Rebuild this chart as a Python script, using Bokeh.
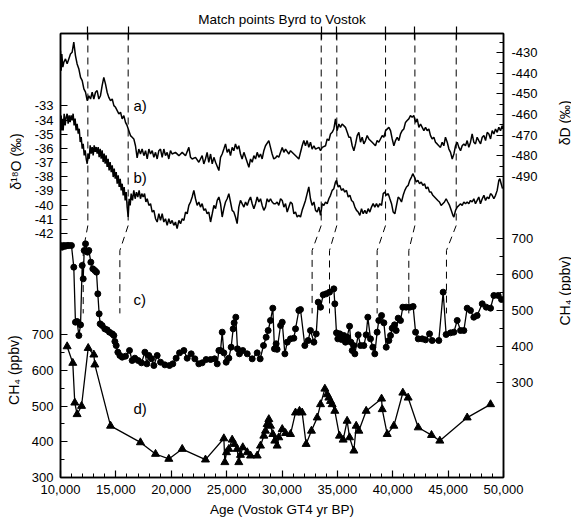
import math
from bokeh.plotting import figure
from bokeh.models import Range1d, LinearAxis, FixedTicker, NumeralTickFormatter, Label
from bokeh.layouts import row
from bokeh.core.properties import value
from bokeh.embed import file_html
from bokeh.resources import INLINE

FONT = "Liberation Sans"

# ---------------- data ----------------
# a) Vostok deltaD (permil)
A_AGE = [10000,10060,10120,10210,10300,10450,10600,10750,10900,11050,
         11200,11350,11500,11660,11810,11960,12110,12260,12410,12560,
         12710,12860,13010,13160,13310,13460,13610,13760,13910,14060,
         14210,14360,14520,14670,14820,14970,15120,15270,15420,15570,
         15720,15870,16020,16170,16320,16470,16620,16770,16920,17070,
         17220,17370,17530,17680,17830,17980,18130,18280,18430,18580,
         18730,18880,19030,19180,19330,19480,19630,19780,19930,20080,
         20380,20690,20990,21290,21590,21740,21890,22190,22490,22790,
         22940,23090,23240,23390,23550,23700,23850,24000,24300,24450,
         24600,24750,24900,25050,25200,25350,25500,25650,25800,25950,
         26100,26250,26400,26560,26710,26860,27010,27160,27310,27460,
         27610,27760,27910,28060,28210,28360,28510,28810,28960,29110,
         29260,29410,29560,29710,30020,30170,30320,30620,30770,31070,
         31370,31520,31820,31970,32120,32270,32420,32570,32720,32880,
         33030,33330,33480,33630,33930,34080,34230,34380,34530,34680,
         34830,34980,35130,35280,35430,35730,35890,36040,36190,36340,
         36490,36640,36790,36940,37090,37240,37390,37540,37690,37840,
         38140,38440,38590,38740,39050,39200,39350,39650,39800,39950,
         40100,40250,40400,40550,40700,40850,41000,41150,41300,41450,
         41600,41750,41900,42060,42210,42360,42510,42660,42810,42960,
         43110,43260,43410,43560,43710,43860,44010,44160,44310,44460,
         44610,44760,44920,45070,45220,45370,45520,45670,45820,45970,
         46120,46270,46420,46570,46720,46870,47020,47170,47320,47470,
         47620,47770,47930,48080,48230,48380,48530,48680,48830,48980,
         49130,49280,49430,49580,49730,49880,49940]
A_DD = [-429.1,-438.8,-430.7,-437.1,-434.7,-433.1,-435.5,-433.1,-430.7,-429.9,
        -425.0,-431.5,-435.5,-438.0,-442.0,-443.6,-447.6,-449.2,-453.3,-450.9,
        -452.5,-449.2,-452.5,-449.2,-448.4,-452.5,-450.9,-446.0,-442.0,-445.2,
        -449.2,-451.7,-453.3,-452.5,-455.7,-456.5,-458.1,-459.7,-458.9,-462.1,
        -460.5,-463.8,-465.4,-467.8,-470.2,-471.0,-471.8,-475.1,-481.0,-476.7,
        -479.1,-476.7,-479.9,-477.5,-481.5,-476.7,-479.1,-477.5,-480.7,-478.3,
        -481.5,-477.5,-476.7,-480.7,-476.7,-479.9,-478.3,-481.5,-477.5,-479.1,
        -478.3,-479.9,-478.3,-479.9,-475.9,-480.7,-481.5,-480.7,-483.1,-479.9,
        -483.9,-481.5,-478.3,-483.1,-479.1,-483.9,-480.7,-483.1,-487.1,-480.7,
        -479.1,-476.7,-474.2,-478.3,-476.7,-479.9,-475.9,-477.5,-474.2,-476.7,
        -475.1,-479.1,-481.5,-478.3,-480.7,-483.1,-485.5,-481.5,-483.1,-479.9,
        -481.5,-478.3,-480.7,-479.1,-481.5,-477.5,-475.1,-472.6,-475.9,-479.1,
        -481.5,-481.0,-479.9,-480.7,-475.9,-478.3,-476.7,-479.1,-477.5,-479.1,
        -480.7,-481.5,-475.1,-472.6,-475.1,-472.6,-475.9,-473.4,-476.7,-475.1,
        -476.7,-475.9,-477.5,-475.9,-475.1,-471.8,-472.6,-469.4,-468.6,-467.0,
        -462.1,-467.8,-464.6,-466.2,-464.6,-466.2,-468.6,-471.0,-471.0,-475.1,
        -477.5,-474.2,-470.2,-468.6,-473.4,-471.0,-474.2,-472.6,-470.2,-471.8,
        -473.4,-475.1,-472.6,-473.4,-470.2,-471.0,-467.8,-466.2,-467.8,-471.8,
        -475.1,-472.6,-471.0,-472.6,-469.4,-467.8,-467.0,-463.8,-462.9,-462.1,
        -460.5,-461.3,-460.5,-463.8,-462.1,-466.2,-464.6,-466.2,-467.8,-466.2,
        -467.8,-467.0,-470.2,-471.8,-471.0,-473.4,-474.2,-475.1,-475.9,-473.4,
        -475.1,-471.0,-473.4,-476.7,-478.3,-481.5,-479.1,-475.1,-473.4,-475.9,
        -477.5,-475.1,-474.2,-475.1,-472.6,-475.9,-473.4,-469.4,-473.4,-474.2,
        -471.0,-472.6,-474.2,-471.0,-470.2,-472.6,-468.6,-469.4,-471.8,-467.8,
        -469.4,-467.0,-468.6,-466.2,-467.8,-465.4,-467.0]

# b) Byrd delta18O (permil)
B_AGE = [10000,10060,10120,10180,10240,10330,10420,10510,10600,10690,
         10780,10870,10960,11050,11140,11230,11320,11410,11500,11600,
         11690,11780,11870,11960,12050,12140,12230,12320,12410,12500,
         12590,12680,12770,12860,12950,13040,13130,13220,13310,13400,
         13490,13580,13670,13760,13850,13940,14030,14120,14210,14300,
         14390,14480,14580,14670,14760,14850,14940,15030,15120,15210,
         15300,15390,15480,15570,15660,15750,15840,15930,16020,16110,
         16200,16290,16380,16500,16620,16740,16860,16980,17100,17220,
         17340,17460,17590,17710,17830,17980,18130,18280,18430,18580,
         18730,18880,19030,19180,19330,19480,19630,19780,19930,20080,
         20230,20380,20530,20690,20840,20990,21140,21290,21440,21590,
         21740,21890,22040,22190,22340,22490,22640,22790,22940,23090,
         23240,23390,23550,23700,23850,24000,24150,24300,24450,24600,
         24750,24900,25050,25200,25350,25500,25650,25800,25950,26100,
         26250,26400,26560,26710,26860,27010,27160,27310,27460,27610,
         27760,27910,28060,28210,28360,28510,28660,28810,28960,29110,
         29260,29410,29560,29710,29870,30020,30170,30320,30470,30620,
         30770,30920,31070,31220,31370,31520,31670,31820,31970,32120,
         32270,32420,32570,32720,32880,33030,33180,33330,33480,33630,
         33780,33930,34080,34230,34380,34530,34680,34830,34920,35070,
         35220,35370,35520,35670,35820,35980,36130,36280,36430,36580,
         36730,36880,37030,37180,37330,37480,37630,37780,37930,38080,
         38230,38380,38530,38680,38830,38990,39140,39290,39440,39590,
         39740,39890,40040,40190,40340,40490,40640,40790,40940,41090,
         41240,41390,41540,41690,41810,41960,42120,42270,42420,42570,
         42720,42870,43020,43170,43320,43470,43620,43770,43920,44070,
         44220,44370,44520,44670,44820,44970,45130,45280,45430,45520,
         45670,45820,45970,46120,46270,46420,46570,46720,46870,47020,
         47170,47320,47470,47620,47770,47920,48080,48230,48380,48530,
         48680,48830,48980,49130,49280,49430,49580,49670,49790,49910]
B_D18O = [-34.26,-33.67,-34.73,-33.90,-34.73,-33.55,-34.37,-33.79,-33.55,-34.26,
          -33.67,-34.14,-33.67,-34.02,-33.55,-34.37,-33.90,-34.73,-34.26,-34.96,
          -34.61,-35.55,-35.20,-36.02,-35.67,-36.49,-36.14,-36.73,-37.08,-36.37,
          -36.73,-35.78,-36.37,-35.90,-36.49,-35.78,-36.25,-35.90,-36.37,-35.90,
          -36.61,-36.02,-36.73,-36.14,-36.96,-36.37,-37.08,-36.49,-37.31,-36.73,
          -37.55,-36.96,-37.67,-37.20,-38.02,-37.43,-38.14,-37.67,-38.49,-37.90,
          -38.72,-38.14,-38.96,-38.49,-39.31,-38.72,-39.67,-39.08,-40.14,-40.84,
          -39.55,-40.02,-39.19,-39.67,-38.96,-39.55,-39.08,-39.43,-38.96,-39.55,
          -39.19,-39.43,-39.19,-39.78,-39.55,-40.02,-39.90,-40.49,-40.37,-40.96,
          -41.19,-40.61,-41.08,-40.61,-41.19,-40.96,-41.43,-40.96,-41.31,-41.08,
          -41.43,-41.19,-41.66,-41.08,-41.31,-40.96,-41.08,-40.49,-40.61,-40.02,
          -39.78,-39.43,-38.96,-39.55,-40.02,-39.78,-40.14,-39.90,-40.37,-40.25,
          -40.61,-40.49,-41.19,-40.61,-40.02,-40.25,-39.67,-39.43,-39.90,-40.84,
          -40.25,-39.78,-39.55,-39.19,-39.78,-40.37,-40.49,-40.84,-41.31,-40.14,
          -39.67,-39.90,-40.14,-39.78,-40.02,-39.67,-39.43,-39.90,-40.25,-39.90,
          -39.43,-39.78,-39.55,-40.02,-40.37,-40.14,-39.55,-39.78,-39.55,-39.78,
          -39.90,-39.90,-39.78,-40.02,-39.55,-39.67,-40.14,-39.90,-40.49,-40.14,
          -39.78,-39.90,-40.61,-40.49,-40.84,-40.72,-40.84,-40.37,-40.02,-39.67,
          -39.19,-38.72,-39.55,-40.02,-39.78,-40.37,-40.49,-40.14,-40.72,-39.90,
          -40.02,-39.78,-39.90,-39.55,-39.31,-38.96,-38.84,-38.37,-38.25,-38.72,
          -38.61,-38.96,-38.84,-39.08,-38.96,-39.43,-39.31,-39.67,-39.78,-40.14,
          -40.37,-40.49,-40.72,-40.25,-40.61,-40.37,-40.61,-40.25,-40.49,-40.14,
          -39.90,-40.14,-39.90,-40.14,-39.90,-40.02,-39.19,-39.08,-39.31,-39.19,
          -39.55,-39.90,-40.49,-40.61,-40.02,-39.43,-39.55,-39.78,-39.31,-38.96,
          -38.72,-38.61,-38.25,-38.02,-37.78,-38.02,-38.37,-38.25,-38.49,-38.37,
          -38.61,-38.49,-38.84,-38.72,-39.08,-39.08,-39.31,-39.43,-39.55,-39.67,
          -39.78,-40.02,-39.90,-39.78,-39.55,-39.78,-40.02,-40.37,-40.72,-40.84,
          -40.37,-40.14,-40.02,-39.90,-40.02,-39.78,-39.90,-39.78,-39.90,-39.67,
          -39.78,-39.55,-39.90,-39.67,-39.43,-39.90,-39.55,-39.31,-39.67,-39.43,
          -39.55,-39.19,-39.31,-39.55,-39.31,-38.96,-38.25,-38.14,-38.49,-38.84]

# c) Byrd CH4 (ppbv)
C_AGE = [10000,10150,10300,10450,10600,10750,10990,11200,11350,11500,
         11660,11810,11960,12050,12140,12260,12440,12560,12740,12920,
         13100,13250,13370,13490,13580,13760,14000,14210,14420,14670,
         14820,14910,15030,15180,15360,15570,15870,16230,16470,16710,
         17010,17310,17620,17800,17980,18220,18430,18730,19030,19420,
         19840,20140,20440,20750,21140,21440,21800,22130,22490,22790,
         23150,23550,23910,24150,24300,24450,24600,24750,24960,25200,
         25410,25590,25680,25830,25980,26160,26460,26860,27310,27760,
         28030,28330,28570,28750,28960,29170,29320,29470,29560,29870,
         30020,30260,30470,30770,31070,31220,31520,31670,32060,32360,
         32570,32880,33090,33270,33480,33720,33990,34290,34680,34770,
         34920,35040,35220,35370,35580,35730,35880,36100,36220,36340,
         36460,36580,36880,37090,37390,37600,37750,37990,38200,38380,
         38590,38740,38990,39200,39410,39650,39800,39950,40160,40310,
         40490,40700,40910,41210,41540,41840,42060,42300,42660,42960,
         43320,43560,44160,44550,44820,45220,45520,45820,46120,46420,
         46720,47020,47320,47620,48080,48440,48830,49130,49520,49820]
C_CH4 = [680.5,675.9,680.5,678.7,680.5,680.5,680.5,620.3,467.5,469.4,
         430.5,460.1,625.0,587.9,666.6,685.2,662.0,666.6,634.2,615.7,
         611.1,606.4,546.3,490.7,462.9,458.3,449.0,446.2,439.8,435.1,
         430.5,413.8,402.7,384.2,375.0,370.3,373.1,388.8,361.1,367.5,
         361.1,354.6,384.2,351.8,375.0,365.7,347.2,375.0,356.4,349.0,
         347.2,351.8,367.5,382.3,388.8,367.5,379.6,365.7,351.8,354.6,
         363.8,363.8,365.7,351.8,388.8,388.8,439.8,382.3,356.4,367.5,
         398.1,449.0,465.7,481.4,393.5,379.6,388.8,379.6,365.7,382.3,
         365.7,402.7,425.9,444.4,472.2,506.4,393.5,407.4,392.0,458.3,
         467.5,379.6,412.0,421.2,423.1,449.0,500.0,502.7,402.7,416.6,
         444.4,412.0,435.1,523.1,509.2,543.5,546.3,550.9,560.1,518.5,
         437.9,421.2,435.1,419.4,430.5,412.0,425.9,456.4,412.0,388.8,
         402.7,379.6,432.4,402.7,402.7,432.4,481.4,421.2,398.1,379.6,
         439.8,472.2,486.1,465.7,398.1,416.6,430.5,450.9,460.1,444.4,
         478.7,472.2,509.2,509.2,509.2,511.1,439.8,421.2,421.2,418.5,
         435.1,416.6,416.6,550.9,433.3,437.9,439.8,472.2,444.4,444.4,
         506.4,500.0,481.4,486.1,518.5,509.2,506.4,541.6,541.6,530.5]

# d) Vostok CH4 (ppbv)
D_AGE = [10600,11110,11290,11500,11900,12500,13010,13100,14520,17220,
         18580,19780,20990,23090,24750,24840,24990,25200,25500,25710,
         25950,26100,26250,26460,26860,27160,27760,28060,28360,28510,
         28660,28810,28960,29170,29350,29560,29710,30020,30320,30770,
         31220,31580,31820,32180,32660,33180,33480,33870,34080,34230,
         34380,34530,34770,35190,35520,35880,36100,36490,36700,36940,
         37600,38990,39050,39500,40100,40910,41390,42300,43500,44250,
         46720,48830]
D_CH4 = [666.6,620.3,509.2,476.8,499.9,662.0,643.5,615.7,444.4,398.1,
         365.7,351.8,379.6,349.9,409.2,342.5,370.3,379.6,405.5,393.5,
         379.6,342.5,362.9,384.2,370.3,361.0,361.0,388.8,416.6,430.5,
         449.0,462.9,444.4,421.2,402.7,388.8,412.0,435.1,424.0,421.2,
         481.4,486.1,481.4,393.5,430.5,467.5,504.6,548.1,532.4,523.1,
         513.8,504.6,486.1,416.6,405.5,458.3,412.0,374.9,444.4,430.5,
         486.1,520.3,490.7,421.2,444.4,537.0,523.1,439.8,418.5,402.7,
         467.5,504.6]

# match points (Vostok GT4 age of tie point / Byrd age of tie point)
VOSTOK_MATCH = [12470, 16110, 33540, 34950, 39350, 42000, 45730]
BYRD_MATCH = [12050, 15360, 32720, 34290, 38590, 41450, 44850]

# tick values
X_MAJOR = list(range(10000, 50001, 5000))
X_MINOR = list(range(10000, 50001, 1000))
D18O_TICKS = list(range(-42, -32))
DD_TICKS = list(range(-490, -429, 10))
DD_MINOR = list(range(-485, -424, 10))
CH4_TICKS = [300, 400, 500, 600, 700]
CH4_MINOR = [350, 450, 550, 650]

for a, b in [(A_AGE, A_DD), (B_AGE, B_D18O), (C_AGE, C_CH4), (D_AGE, D_CH4)]:
    assert len(a) == len(b), (len(a), len(b))

# ---------------- scales ----------------
X_RANGE = (10000, 50000)
Y_CH4L = (300.0, 1542.0)      # primary (left CH4, curve d)
Y_D18O = (-59.22, -27.89)     # left delta18O (curve b)
Y_DD = (-635.6, -420.8)       # right deltaD (curve a)
Y_CH4R = (36.1, 1269.4)       # right CH4 (curve c)

H = 520
SIDE_L = 24
SIDE_R = 16
MAIN_W = 571 - SIDE_L - SIDE_R


def remap(v, src, dst):
    f = (v - src[0]) / (src[1] - src[0])
    return round(dst[0] + f * (dst[1] - dst[0]), 4)


p = figure(width=MAIN_W, height=H, x_range=Range1d(*X_RANGE), y_range=Range1d(*Y_CH4L),
           output_backend="svg", toolbar_location=None, title="Match points Byrd to Vostok",
           min_border_left=36, min_border_right=52, min_border_top=33, min_border_bottom=43)
p.extra_y_ranges = {"d18o": Range1d(*Y_D18O), "dD": Range1d(*Y_DD), "ch4r": Range1d(*Y_CH4R)}
p.grid.visible = False
p.outline_line_color = "black"
p.outline_line_width = 1.5
p.background_fill_color = "white"
p.border_fill_color = "white"
p.title.align = "center"
p.title.offset = -6
p.title.standoff = 0
p.title.text_font = FONT
p.title.text_font_size = "13.5px"
p.title.text_font_style = "normal"
p.title.text_color = "black"


def style_axis(ax, standoff=7):
    ax.axis_line_color = "black"
    ax.axis_line_width = 1.5
    ax.major_tick_line_color = "black"
    ax.major_tick_line_width = 1.2
    ax.minor_tick_line_color = "black"
    ax.minor_tick_line_width = 1.0
    ax.major_tick_in = 7
    ax.major_tick_out = 0
    ax.minor_tick_in = 4
    ax.minor_tick_out = 0
    ax.major_label_text_font = FONT
    ax.major_label_text_font_size = "13px"
    ax.major_label_text_color = "black"
    ax.major_label_standoff = standoff


# left axis: CH4 (d) + delta18O (b)
left = p.yaxis[0]
style_axis(left, 7)
d18_pos = [remap(v, Y_D18O, Y_CH4L) for v in D18O_TICKS]
left.ticker = FixedTicker(ticks=[float(v) for v in CH4_TICKS] + d18_pos,
                          minor_ticks=[float(v) for v in CH4_MINOR])
ov = {float(v): str(v) for v in CH4_TICKS}
ov.update({pos: str(v) for pos, v in zip(d18_pos, D18O_TICKS)})
left.major_label_overrides = ov

# right axis: deltaD (a) + CH4 (c)
right = LinearAxis(y_range_name="dD")
style_axis(right, 8)
ch4r_pos = [remap(v, Y_CH4R, Y_DD) for v in CH4_TICKS]
ch4r_minor = [remap(v, Y_CH4R, Y_DD) for v in CH4_MINOR]
right.ticker = FixedTicker(ticks=[float(v) for v in DD_TICKS] + ch4r_pos,
                           minor_ticks=[float(v) for v in DD_MINOR] + ch4r_minor)
ovr = {float(v): str(v) for v in DD_TICKS}
ovr.update({pos: str(v) for pos, v in zip(ch4r_pos, CH4_TICKS)})
right.major_label_overrides = ovr
p.add_layout(right, "right")

# bottom axis
bottom = p.xaxis[0]
style_axis(bottom, 7)
bottom.ticker = FixedTicker(ticks=X_MAJOR, minor_ticks=X_MINOR)
bottom.formatter = NumeralTickFormatter(format="0,0")
bottom.axis_label = "Age (Vostok GT4 yr BP)"
bottom.axis_label_standoff = 5
bottom.axis_label_text_font = FONT
bottom.axis_label_text_font_size = "13.5px"
bottom.axis_label_text_font_style = "normal"
bottom.axis_label_text_color = "black"

# top axis: match point ticks
top = LinearAxis()
style_axis(top, 0)
top.ticker = FixedTicker(ticks=VOSTOK_MATCH, minor_ticks=[])
top.major_tick_in = 6
top.major_tick_out = 7
top.axis_label_standoff = 0
top.major_label_overrides = {float(v): "" for v in VOSTOK_MATCH}
top.major_label_text_font_size = "0px"
p.add_layout(top, "above")

# ---------------- curves ----------------
p.line(A_AGE, A_DD, y_range_name="dD", line_color="black", line_width=1.5)
p.line(B_AGE, B_D18O, y_range_name="d18o", line_color="black", line_width=1.5)
p.line(C_AGE, C_CH4, y_range_name="ch4r", line_color="black", line_width=1.3)
p.scatter(C_AGE, C_CH4, y_range_name="ch4r", marker="circle", size=6,
          fill_color="black", line_color="black")
p.line(D_AGE, D_CH4, line_color="black", line_width=1.3)
p.scatter(D_AGE, D_CH4, marker="triangle", size=8, fill_color="black", line_color="black")

# match lines (Vostok age above, Byrd age below)
TOPV = Y_CH4L[1]
xs = [[v, v, b, b] for v, b in zip(VOSTOK_MATCH, BYRD_MATCH)]
ys = [[TOPV, 1005.0, 935.0, 759.0] for _ in VOSTOK_MATCH]
p.multi_line(xs, ys, line_color="black", line_width=1, line_dash="7 5")


# ---------------- panel labels ----------------
def lab(text, x, y, size, rng="default"):
    p.add_layout(Label(x=x, y=y, y_range_name=rng, text=text, text_font=FONT,
                       text_font_size=size, text_align="left", text_baseline="middle",
                       text_color="black"))


lab("a)", 16590, -455.6, "15px", "dD")
lab("b)", 16590, -38.05, "15px", "d18o")
lab("c)", 16590, 530.6, "15px", "ch4r")
lab("d)", 16590, 494.0, "15px")


# ---------------- side panels carrying the axis titles ----------------
def side_fig(w):
    f = figure(width=w, height=H, x_range=Range1d(0, w), y_range=Range1d(0, H),
               output_backend="svg", toolbar_location=None, title=None,
               x_axis_type=None, y_axis_type=None, min_border=0)
    f.grid.visible = False
    f.outline_line_color = None
    f.background_fill_color = "white"
    f.border_fill_color = "white"
    return f


# texts read bottom-to-top; anchored at their lower end
lf = side_fig(SIDE_L)
lf.text(x=[15.5, 13], y=[H - 183, H - 435], text=["δ¹⁸O (‰)", "CH₄ (ppbv)"],
        angle=math.pi / 2, text_align="left", text_baseline="middle",
        text_font=value(FONT), text_font_size="14px", text_color="black")

rf = side_fig(SIDE_R)
rf.text(x=[9, 9], y=[H - 131, H - 342], text=["δD (‰)", "CH₄ (ppbv)"],
        angle=math.pi / 2, text_align="left", text_baseline="middle",
        text_font=value(FONT), text_font_size="14px", text_color="black")

layout = row(lf, p, rf, spacing=0)
open("out.html", "w").write(file_html(layout, INLINE, title="Match points Byrd to Vostok"))
